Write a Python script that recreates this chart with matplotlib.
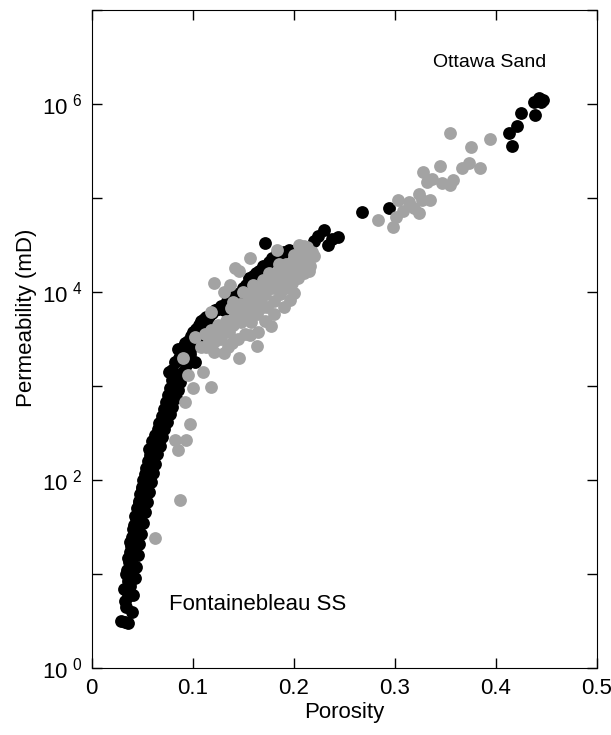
import numpy as np
import matplotlib
matplotlib.use("Agg")
from matplotlib import pyplot as plt

plt.rcParams['font.family'] = ['Liberation Sans', 'DejaVu Sans']
plt.rcParams['mathtext.fontset'] = 'custom'
plt.rcParams['mathtext.rm'] = 'Liberation Sans'

# Fontainebleau sandstone + Ottawa sand (black)
phi_black = [0.029, 0.033, 0.036, 0.034, 0.033, 0.036, 0.035, 0.038, 0.036, 0.037,
             0.035, 0.039, 0.037, 0.040, 0.038, 0.041, 0.039, 0.042, 0.040, 0.043,
             0.045, 0.042, 0.046, 0.044, 0.047, 0.045, 0.049, 0.047, 0.050, 0.048,
             0.052, 0.050, 0.053, 0.051, 0.055, 0.053, 0.056, 0.054, 0.058, 0.056,
             0.060, 0.058, 0.062, 0.057, 0.061, 0.064, 0.060, 0.065, 0.063, 0.067,
             0.066, 0.069, 0.067, 0.071, 0.070, 0.073, 0.072, 0.075, 0.074, 0.077,
             0.076, 0.079, 0.078, 0.081, 0.080, 0.077, 0.080, 0.083, 0.082, 0.086,
             0.088, 0.085, 0.090, 0.092, 0.095, 0.098, 0.100, 0.103, 0.102, 0.106,
             0.108, 0.111, 0.113, 0.116, 0.119, 0.122, 0.125, 0.128, 0.131, 0.134,
             0.137, 0.140, 0.143, 0.147, 0.150, 0.153, 0.156, 0.160, 0.163, 0.166,
             0.170, 0.172, 0.175, 0.178, 0.183, 0.187, 0.190, 0.195, 0.200, 0.205,
             0.210, 0.216, 0.220, 0.224, 0.230, 0.234, 0.238, 0.244, 0.268, 0.294,
             0.040, 0.041, 0.043, 0.044, 0.046, 0.047, 0.049, 0.051, 0.053, 0.055,
             0.057, 0.059, 0.061, 0.063, 0.065, 0.068, 0.070, 0.072, 0.075, 0.078,
             0.080, 0.083, 0.085, 0.087, 0.090, 0.093, 0.097, 0.101, 0.105, 0.110,
             0.115, 0.032, 0.034, 0.036, 0.038, 0.041, 0.043, 0.047, 0.050, 0.054,
             0.058, 0.062, 0.066, 0.070, 0.073,
             0.413, 0.416, 0.421, 0.425, 0.438, 0.439, 0.443, 0.445, 0.447]
k_black = [3.2, 3.1, 3.0, 4.5, 5.2, 5.8, 6.8, 7.5, 8.5, 10,
           11, 12, 13.5, 15, 17, 18, 20, 22, 25, 27,
           30, 33, 36, 40, 45, 50, 55, 60, 65, 72,
           78, 85, 92, 100, 105, 115, 125, 135, 145, 160,
           170, 185, 200, 215, 230, 245, 260, 280, 300, 320,
           350, 380, 410, 440, 480, 520, 570, 620, 680, 740,
           800, 870, 950, 1050, 1150, 1400, 1500, 1300, 1800, 2000,
           2200, 2500, 2600, 2900, 3000, 3400, 3800, 4100, 1800, 4500,
           4900, 5200, 5500, 5600, 6000, 6500, 6700, 7200, 6400, 8000,
           8200, 8800, 9500, 9300, 11000, 12000, 14000, 15000, 16000, 17000,
           19000, 33000, 21000, 23000, 26000, 24000, 27000, 28000, 26000, 29000,
           28000, 26000, 35000, 40000, 46000, 32000, 37000, 39000, 71000, 78000,
           4.0, 6.0, 9.0, 12, 16, 21, 27, 35, 46, 58,
           75, 95, 120, 150, 190, 230, 290, 350, 420, 500,
           600, 750, 900, 1100, 1400, 1700, 2200, 2700, 3300, 4000,
           4600, 7.0, 10, 15, 22, 30, 42, 57, 80, 110,
           160, 210, 270, 340, 430,
           500000, 360000, 590000, 800000, 1050000, 760000, 1180000, 1070000, 1100000]

# second data set (grey)
phi_grey = [0.063, 0.087, 0.085, 0.082, 0.093, 0.097, 0.092, 0.100, 0.118, 0.110,
            0.095, 0.090, 0.102, 0.113, 0.121, 0.131, 0.146, 0.139, 0.164, 0.157,
            0.177, 0.118, 0.121, 0.131, 0.137, 0.146, 0.157, 0.183, 0.213, 0.215,
            0.196, 0.170, 0.142, 0.205, 0.210,
            0.125, 0.130, 0.133, 0.136, 0.140, 0.142, 0.145, 0.148, 0.150, 0.152,
            0.155, 0.157, 0.158, 0.160, 0.162, 0.164, 0.166, 0.168, 0.170, 0.172,
            0.174, 0.176, 0.178, 0.180, 0.182, 0.184, 0.186, 0.188, 0.190, 0.192,
            0.194, 0.196, 0.198, 0.200, 0.202, 0.204, 0.206, 0.208, 0.210, 0.212,
            0.214, 0.216, 0.218, 0.220, 0.165, 0.172, 0.180, 0.145, 0.152, 0.138,
            0.160, 0.150, 0.140, 0.190, 0.200, 0.175, 0.185, 0.200, 0.208, 0.128,
            0.135, 0.123, 0.118, 0.112, 0.108,
            0.143, 0.148, 0.153, 0.158, 0.163, 0.168, 0.173, 0.178, 0.183, 0.188,
            0.193, 0.198, 0.203, 0.147, 0.155, 0.162, 0.170, 0.177, 0.185, 0.192,
            0.200, 0.207, 0.137, 0.132, 0.127, 0.122, 0.116,
            0.355, 0.394, 0.375, 0.373, 0.384, 0.366, 0.345, 0.328, 0.337, 0.347,
            0.358, 0.355, 0.332, 0.324, 0.327, 0.335, 0.314, 0.303, 0.319, 0.308,
            0.324, 0.301, 0.283, 0.298]
k_grey = [24, 62, 210, 270, 270, 400, 680, 950, 980, 1400,
          1300, 2000, 3300, 2600, 2300, 2250, 2000, 2900, 2700, 3500,
          4400, 6100, 12500, 10000, 12000, 17000, 23000, 28000, 30000, 17000,
          8200, 6900, 18000, 32000, 31000,
          4500, 4000, 5000, 3800, 4500, 5500, 6000, 4800, 7000, 5500,
          8000, 6500, 4800, 9000, 7500, 5800, 10000, 8500, 12000, 9500,
          7000, 13000, 11000, 8000, 15000, 12500, 9500, 17000, 14000, 11000,
          19000, 16000, 12500, 21000, 18000, 14000, 23000, 20000, 16000, 25000,
          22000, 19000, 27000, 24000, 3800, 5000, 5800, 3200, 3600, 6800,
          12000, 10000, 7800, 7000, 9800, 16000, 20000, 25000, 27000, 3200,
          2600, 3500, 4000, 3600, 2600,
          5200, 6500, 7000, 8000, 9200, 10500, 11500, 13000, 14500, 16000,
          17500, 19500, 21500, 7500, 9500, 11000, 13500, 15000, 17500, 20000,
          22500, 24000, 5000, 4300, 4200, 3000, 3000,
          490000, 430000, 350000, 240000, 210000, 210000, 220000, 190000, 160000, 145000,
          155000, 140000, 150000, 110000, 95000, 95000, 91000, 95000, 78000, 74000,
          70000, 63000, 59000, 50000]

fig = plt.figure(figsize=(6.11, 7.35), dpi=100)
ax = fig.add_axes([0.150, 0.091, 0.827, 0.895])

ax.scatter(phi_black, k_black, s=85, c='black', linewidths=0, zorder=2)
ax.scatter(phi_grey, k_grey, s=85, c='#a3a3a3', linewidths=0, zorder=3)

ax.set_yscale('log')
ax.set_xlim(0, 0.5)
ax.set_ylim(1, 1e7)
ax.set_xticks([0, 0.1, 0.2, 0.3, 0.4, 0.5])
ax.set_xticklabels(['0', '0.1', '0.2', '0.3', '0.4', '0.5'])
ax.set_yticks([1, 10, 1e2, 1e3, 1e4, 1e5, 1e6, 1e7])
ax.set_yticklabels([r'10$^{\ 0}$', '', r'10$^{\ 2}$', '', r'10$^{\ 4}$', '', r'10$^{\ 6}$', ''])
ax.minorticks_off()
ax.tick_params(direction='in', length=7, width=1, top=True, right=True,
               labelsize=16, pad=7)

ax.set_xlabel('Porosity', fontsize=16, labelpad=2)
ax.set_ylabel('Permeability (mD)', fontsize=16)
ax.yaxis.set_label_coords(-0.108, 0.533)

ax.text(0.394, 2.8e6, 'Ottawa Sand', fontsize=14, ha='center', va='center')
ax.text(0.077, 4.8, 'Fontainebleau SS', fontsize=16, ha='left', va='center')

plt.savefig('out.png', dpi=100)
